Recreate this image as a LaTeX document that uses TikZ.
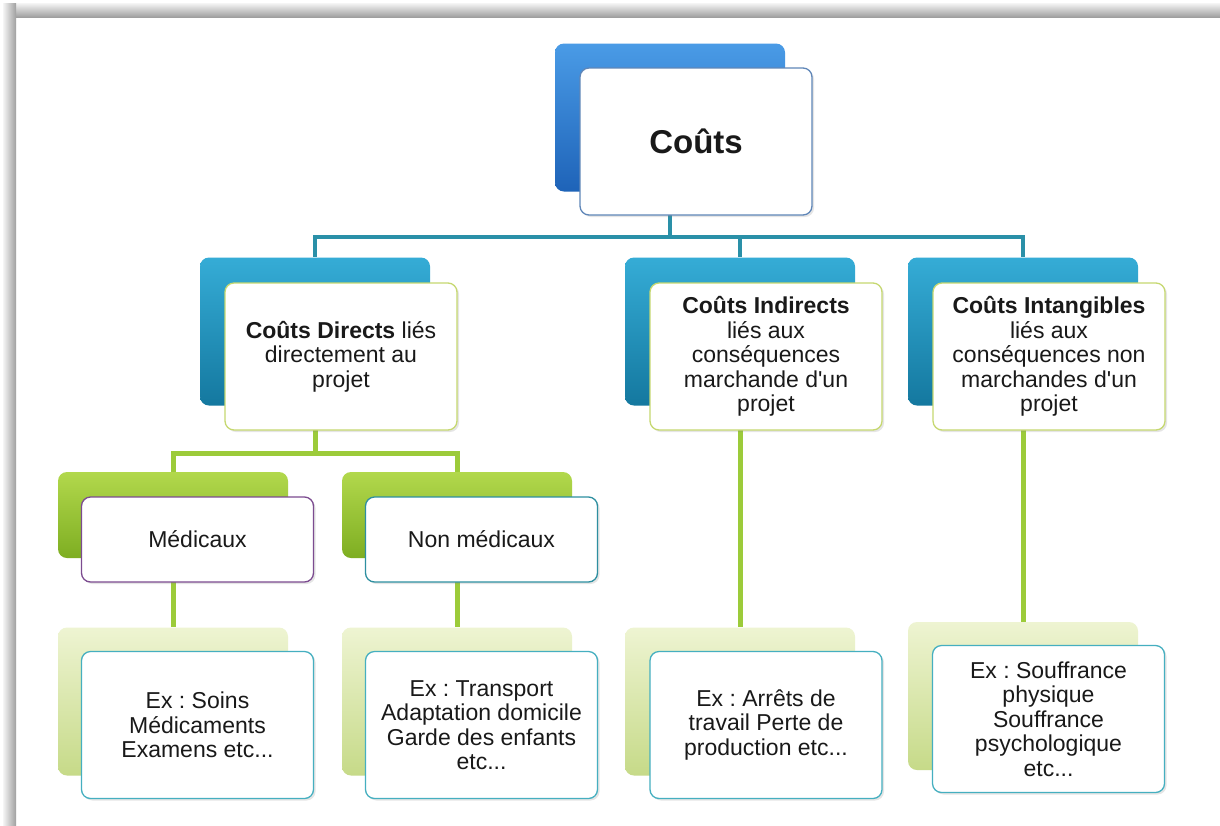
\documentclass[tikz,border=0pt]{standalone}
\usepackage{fontspec}
\setmainfont{Liberation Sans}
\usetikzlibrary{shadows}
\frenchspacing
\definecolor{BusTeal}{HTML}{2A90A8}
\definecolor{BusGreen}{HTML}{9CCB3A}
\definecolor{RootTop}{HTML}{4A9BE6}
\definecolor{RootBot}{HTML}{1E63B8}
\definecolor{CatTop}{HTML}{35ACD6}
\definecolor{CatBot}{HTML}{14789F}
\definecolor{SubTop}{HTML}{B2D84C}
\definecolor{SubBot}{HTML}{7EAE22}
\definecolor{ExTop}{HTML}{EEF4D2}
\definecolor{ExBot}{HTML}{C6DA88}
\definecolor{RootLine}{HTML}{5F86B8}
\definecolor{CatLine}{HTML}{C6D870}
\definecolor{MedLine}{HTML}{7C4B90}
\definecolor{SubLine}{HTML}{2E8FA0}
\definecolor{ExLine}{HTML}{45AFC0}
\tikzstyle{back_box}=[rectangle,
                      minimum width=230pt,
                      minimum height=148pt,
                      rounded corners=9pt]
\tikzstyle{front_box}=[rectangle,
                       minimum width=232pt,
                       minimum height=147pt,
                       rounded corners=9pt,
                       fill=white,
                       line width=1.3pt,
                       align=center,
                       text=black!90,
                       font=\fontsize{23}{24.5}\selectfont,
                       drop shadow={shadow xshift=2pt, shadow yshift=-2pt, opacity=0.2}]
\tikzstyle{bus_teal}=[draw=BusTeal, line width=4pt]
\tikzstyle{bus_green}=[draw=BusGreen, line width=5pt]

\begin{document}
\begin{tikzpicture}[x=1pt, y=-1pt]
    \useasboundingbox (0,0) rectangle (1220,825);
    % cadre
    \fill[white] (0,0) rectangle (1220,825);
    \shade[top color=gray!8, bottom color=gray!75] (3,3) rectangle (1220,17);
    \shade[left color=gray!8, right color=gray!75] (3,3) rectangle (16,825);

    % cases arriere
    \node at (670, 117.5) (couts_bk) [back_box, top color=RootTop, bottom color=RootBot] {};
    \node at (315, 331.5) (directs_bk) [back_box, top color=CatTop, bottom color=CatBot] {};
    \node at (740, 331.5) (indirects_bk) [back_box, top color=CatTop, bottom color=CatBot] {};
    \node at (1023, 331.5) (intang_bk) [back_box, top color=CatTop, bottom color=CatBot] {};
    \node at (173, 515) (medic_bk) [back_box, minimum height=86pt, top color=SubTop, bottom color=SubBot] {};
    \node at (457, 515) (nonmedic_bk) [back_box, minimum height=86pt, top color=SubTop, bottom color=SubBot] {};
    \foreach \n/\x/\y in {soins/173/701.5, transport/457/701.5, arrets/740/701.5, souffrance/1023/696} {
      \node at (\x, \y) (\n_bk) [back_box, top color=ExTop, bottom color=ExBot] {};
    }

    % liaisons
    \coordinate (bus_top) at (0, 237);
    \coordinate (bus_dir) at (0, 453);
    \draw[bus_teal] (couts_bk.south) -- (couts_bk.south |- bus_top) -| (directs_bk.north);
    \draw[bus_teal] (couts_bk.south |- bus_top) -| (indirects_bk.north);
    \draw[bus_teal] (couts_bk.south |- bus_top) -| (intang_bk.north);
    \draw[bus_green] (directs_bk.south) -- (directs_bk.south |- bus_dir) -| (medic_bk.north);
    \draw[bus_green] (directs_bk.south |- bus_dir) -| (nonmedic_bk.north);
    \draw[bus_green] (medic_bk.south) -- (soins_bk.north);
    \draw[bus_green] (nonmedic_bk.south) -- (transport_bk.north);
    \draw[bus_green] (indirects_bk.south) -- (arrets_bk.north);
    \draw[bus_green] (intang_bk.south) -- (souffrance_bk.north);

    % cases avant
    \node at (696, 141.5) (couts) [front_box, draw=RootLine, font=\fontsize{33}{36}\selectfont\bfseries] {Coûts};
    \node at (341, 356.5) (directs) [front_box, draw=CatLine] {\textbf{Coûts Directs} liés\\directement au\\projet};
    \node at (766, 356.5) (indirects) [front_box, draw=CatLine] {\textbf{Coûts Indirects}\\liés aux\\conséquences\\marchande d\textquotesingle un\\projet};
    \node at (1049, 356.5) (intang) [front_box, draw=CatLine] {\textbf{Coûts Intangibles}\\liés aux\\conséquences non\\marchandes d\textquotesingle un\\projet};
    \node at (197.5, 539.5) (medic) [front_box, minimum height=85pt, draw=MedLine] {Médicaux};
    \node at (481.5, 539.5) (nonmedic) [front_box, minimum height=85pt, draw=SubLine] {Non médicaux};
    \node at (197.5, 725) (soins) [front_box, draw=ExLine] {Ex : Soins\\Médicaments\\Examens etc...};
    \node at (481.5, 725) (transport) [front_box, draw=ExLine] {Ex : Transport\\Adaptation domicile\\Garde des enfants\\etc...};
    \node at (766, 725) (arrets) [front_box, draw=ExLine] {Ex : Arrêts de\\travail Perte de\\production etc...};
    \node at (1048.5, 719) (souffrance) [front_box, draw=ExLine] {Ex : Souffrance\\physique\\Souffrance\\psychologique\\etc...};
\end{tikzpicture}
\end{document}
